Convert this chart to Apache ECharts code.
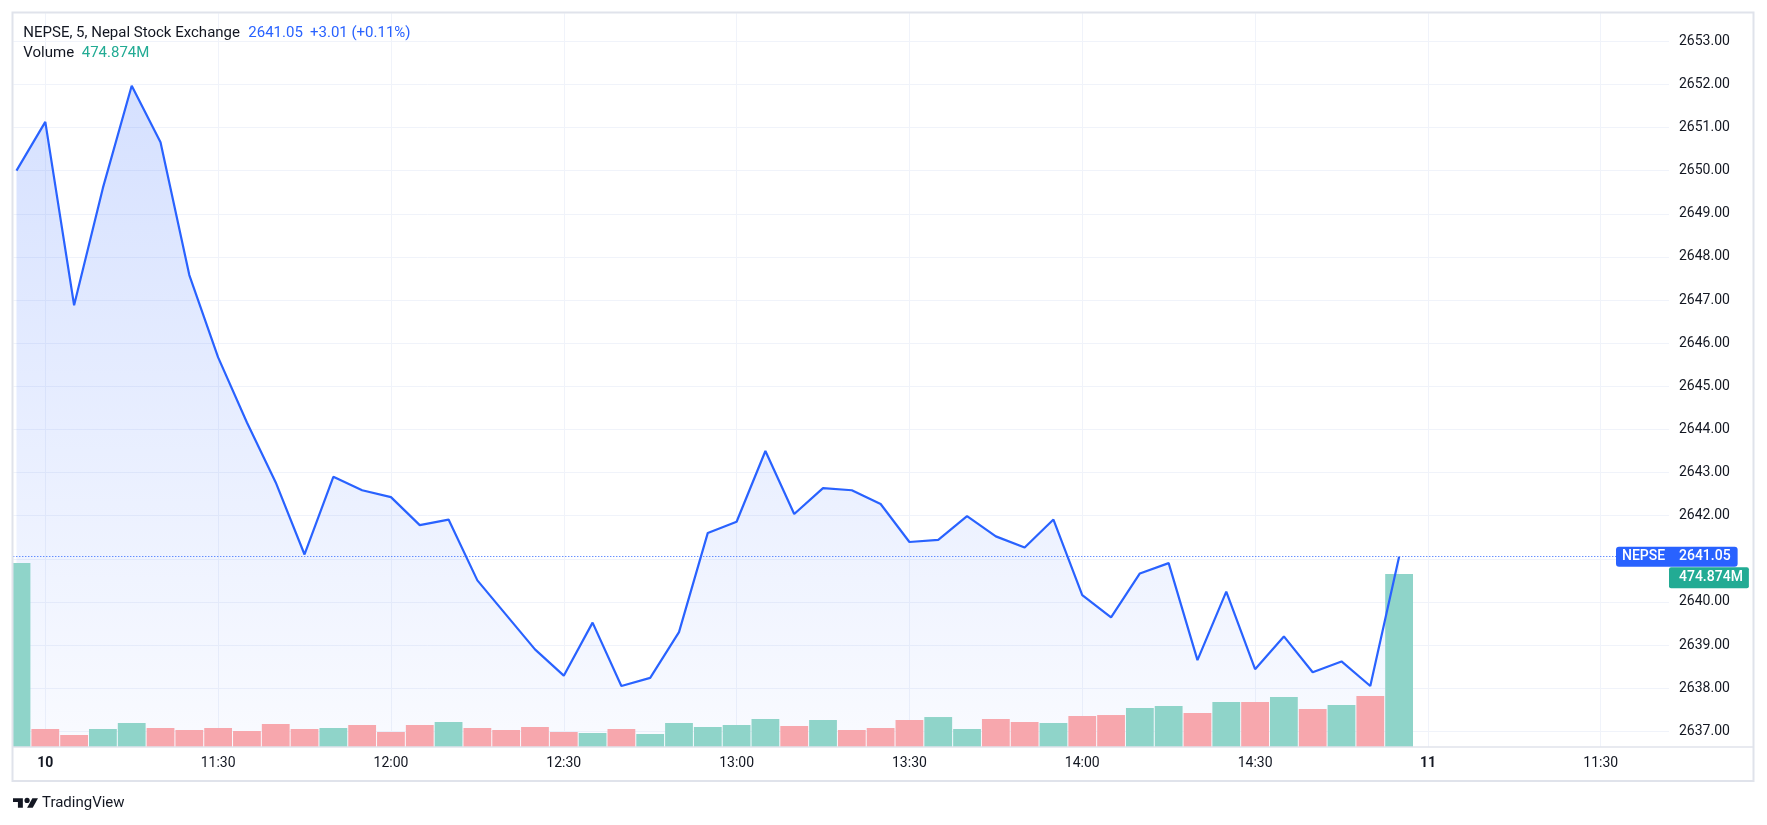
<!DOCTYPE html>
<html><head><meta charset="utf-8">
<script src="https://cdn.jsdelivr.net/npm/echarts@6/dist/echarts.min.js"></script>
<style>html,body{margin:0;padding:0;background:#fff;}#c{width:1767px;height:825px;}</style>
</head><body><div id="c"></div>
<script>
// ---- data ----
const times = ['09 15:00',
  '11:00','11:05','11:10','11:15','11:20','11:25','11:30','11:35','11:40','11:45','11:50','11:55',
  '12:00','12:05','12:10','12:15','12:20','12:25','12:30','12:35','12:40','12:45','12:50','12:55',
  '13:00','13:05','13:10','13:15','13:20','13:25','13:30','13:35','13:40','13:45','13:50','13:55',
  '14:00','14:05','14:10','14:15','14:20','14:25','14:30','14:35','14:40','14:45','14:50','14:55'];
const price = [2650.0, 2651.13, 2646.88, 2649.6, 2651.97, 2650.66, 2647.58, 2645.67, 2644.16, 2642.77,
  2641.1, 2642.9, 2642.59, 2642.43, 2641.78, 2641.91, 2640.5, 2639.7, 2638.9, 2638.29,
  2639.52, 2638.05, 2638.24, 2639.3, 2641.6, 2641.86, 2643.5, 2642.04, 2642.64, 2642.59,
  2642.27, 2641.39, 2641.44, 2641.99, 2641.52, 2641.26, 2641.91, 2640.16, 2639.64, 2640.66,
  2640.9, 2638.65, 2640.24, 2638.44, 2639.2, 2638.37, 2638.62, 2638.05, 2641.05];
const volume = [505.1, 49.4, 32.9, 49.4, 65.9, 52.2, 46.7, 52.2, 43.9, 63.1,
  49.4, 52.2, 60.4, 41.2, 60.4, 68.6, 52.2, 46.7, 54.9, 41.2,
  38.4, 49.4, 35.7, 65.9, 54.9, 60.4, 76.9, 57.6, 74.1, 46.7,
  52.2, 74.1, 82.3, 49.4, 76.9, 68.6, 65.9, 85.1, 87.8, 107.1,
  112.5, 93.3, 123.5, 123.5, 137.2, 104.3, 115.3, 140.0, 474.874];
const volUp = [1,0,0,1,1,0,0,0,0,0, 0,1,0,0,0,1,0,0,0,0, 1,0,1,1,1,1,1,0,1,0, 0,0,1,1,0,0,1,0,0,1, 1,0,1,0,1,0,1,0,1];
const tickPos = [1, 7, 13, 19, 25, 31, 37, 43, 49, 55];
const tickLabels = ['10', '11:30', '12:00', '12:30', '13:00', '13:30', '14:00', '14:30', '11', '11:30'];
const dayLabels = ['10', '11'];
const priceTicks = [2637,2638,2639,2640,2641,2642,2643,2644,2645,2646,2647,2648,2649,2650,2651,2652,2653];
const symbolName = 'NEPSE';
const titleText = 'NEPSE, 5, Nepal Stock Exchange';
const changeText = '+3.01 (+0.11%)';

// ---- derived ----
const lastPrice = price[price.length - 1];
const lastVol = volume[volume.length - 1];
const linePts = price.map((v, i) => [i, v]);
const labelTicks = priceTicks.filter(v => Math.abs(v - lastPrice) > 0.5);
const UP = '#8fd4c9', DOWN = '#f7a7ad';
const FONT = 'Roboto, "Noto Sans", sans-serif';
const PMIN = 2636.636, PMAX = 2653.649;
const VMAX = 2015;
// volume tag is nudged down (as the chart does) so it does not collide with the price tag
const volTagAnchor = lastVol - 3.7 * VMAX / 734;

// logo geometry helper (decoration only)
const LX = 13, LY = 798.3, SX = 25 / 35.5, SY = 9.5 / 18;
const lp = pts => pts.map(p => [LX + p[0] * SX, LY + (p[1] - 4) * SY]);

const chart = echarts.init(document.getElementById('c'));
chart.setOption({
  animation: false,
  backgroundColor: '#ffffff',
  textStyle: { fontFamily: FONT },
  grid: { left: 13.3, top: 13.3, right: 98, bottom: 78, containLabel: false },
  xAxis: {
    type: 'value', min: -0.111, max: 57.37,
    axisLine: { show: false },
    axisTick: { show: false, customValues: tickPos },
    axisLabel: {
      customValues: tickPos, color: '#131722', fontSize: 14, margin: 9, fontFamily: FONT,
      formatter: v => {
        const k = tickPos.indexOf(Math.round(v));
        const t = k >= 0 ? tickLabels[k] : '';
        return dayLabels.includes(t) ? '{b|' + t + '}' : t;
      },
      rich: { b: { fontWeight: 'bold', fontSize: 14, color: '#131722', fontFamily: FONT } }
    },
    splitLine: { show: true, lineStyle: { color: '#f0f3fa', width: 1 } }
  },
  yAxis: [
    {
      type: 'value', position: 'right', min: PMIN, max: PMAX,
      axisLine: { show: false },
      axisTick: { show: false, customValues: priceTicks },
      axisLabel: { customValues: labelTicks, formatter: v => v.toFixed(2), color: '#131722', fontSize: 14, margin: 10, fontFamily: FONT },
      splitLine: { show: true, lineStyle: { color: '#f0f3fa', width: 1 } }
    },
    {
      type: 'value', position: 'right', min: 0, max: VMAX, z: 10,
      axisLine: { show: false },
      axisTick: { show: false, customValues: [volTagAnchor] },
      axisLabel: {
        customValues: [volTagAnchor], formatter: () => lastVol.toFixed(3) + 'M', margin: 0,
        color: '#ffffff', fontSize: 14, fontWeight: 500, fontFamily: FONT,
        backgroundColor: '#22ab94', padding: [4, 6, 3, 10], borderRadius: 2
      },
      splitLine: { show: false }
    },
    {
      type: 'value', position: 'right', min: PMIN, max: PMAX, z: 11,
      axisLine: { show: false },
      axisTick: { show: false, customValues: [lastPrice] },
      axisLabel: {
        customValues: [lastPrice], margin: -53,
        formatter: v => '{n|' + symbolName + '}{v|' + v.toFixed(2) + '}',
        backgroundColor: '#2962ff', borderRadius: 3, padding: [3, 7, 3, 6],
        rich: {
          n: { color: '#ffffff', fontSize: 14, fontWeight: 500, width: 57, fontFamily: FONT },
          v: { color: '#ffffff', fontSize: 14, fontWeight: 500, fontFamily: FONT }
        }
      },
      splitLine: { show: false }
    }
  ],
  series: [
    {
      type: 'line', name: 'area', data: linePts, symbol: 'none', silent: true, z: 1,
      lineStyle: { width: 0, opacity: 0 },
      areaStyle: {
        origin: 'start',
        color: {
          type: 'linear', x: 0, y: 0, x2: 0, y2: 1,
          colorStops: [
            { offset: 0, color: 'rgba(41,98,255,0.28)' },
            { offset: 1, color: 'rgba(41,98,255,0.04)' }
          ]
        }
      }
    },
    {
      type: 'bar', name: 'Volume', yAxisIndex: 1, barWidth: 27.8, z: 2, silent: true, clip: true,
      data: volume.map((v, i) => ({ value: [i, v], itemStyle: { color: volUp[i] ? UP : DOWN } }))
    },
    {
      type: 'line', name: symbolName, data: linePts, symbol: 'none', z: 3, silent: true,
      lineStyle: { color: '#2962ff', width: 2.2 },
      markLine: {
        silent: true, symbol: ['none', 'none'], label: { show: false },
        lineStyle: { color: '#2962ff', width: 1, type: [1, 2] },
        data: [{ yAxis: lastPrice }]
      }
    }
  ],
  graphic: [
    { type: 'rect', silent: true, z: 19, shape: { x: 0, y: 0, width: 12.6, height: 825 },
      style: { fill: '#ffffff' } },
    { type: 'rect', silent: true, z: 20, shape: { x: 12.5, y: 12.5, width: 1741, height: 768.5 },
      style: { fill: 'none', stroke: '#e0e3eb', lineWidth: 2 } },
    { type: 'line', silent: true, z: 20, shape: { x1: 13, y1: 747, x2: 1753, y2: 747 },
      style: { stroke: '#e0e3eb', lineWidth: 1.5 } },
    { type: 'text', x: 23.3, y: 33.3, z: 30, style: { text: titleText, fill: '#131722', font: '15px ' + FONT, verticalAlign: 'middle' } },
    { type: 'text', x: 248.3, y: 33.3, z: 30, style: { text: lastPrice.toFixed(2), fill: '#2962ff', font: '15px ' + FONT, verticalAlign: 'middle' } },
    { type: 'text', x: 310, y: 33.3, z: 30, style: { text: changeText, fill: '#2962ff', font: '15px ' + FONT, verticalAlign: 'middle' } },
    { type: 'text', x: 23.3, y: 53.3, z: 30, style: { text: 'Volume', fill: '#131722', font: '15px ' + FONT, verticalAlign: 'middle' } },
    { type: 'text', x: 81.7, y: 53.3, z: 30, style: { text: lastVol.toFixed(3) + 'M', fill: '#22ab94', font: '15px ' + FONT, verticalAlign: 'middle' } },
    { type: 'polygon', silent: true, z: 30, shape: { points: lp([[14,22],[7,22],[7,11],[0,11],[0,4],[14,4]]) }, style: { fill: '#131722' } },
    { type: 'polygon', silent: true, z: 30, shape: { points: lp([[28,22],[20,22],[27.5,4],[35.5,4]]) }, style: { fill: '#131722' } },
    { type: 'circle', silent: true, z: 30, shape: { cx: LX + 20 * SX, cy: LY + 4 * SY, r: 2.6 }, style: { fill: '#131722' } },
    { type: 'text', x: 42, y: 803, z: 30, style: { text: 'TradingView', fill: '#131722', font: '15px ' + FONT, verticalAlign: 'middle' } }
  ]
});
</script>
</body></html>
